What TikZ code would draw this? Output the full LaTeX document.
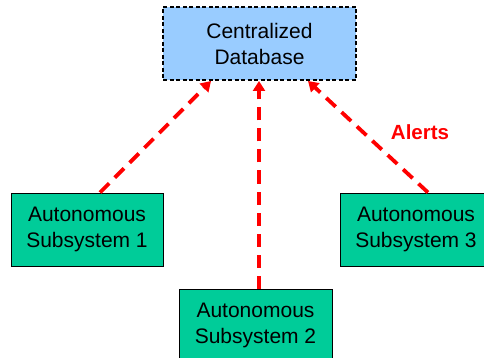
\documentclass[tikz,border=0pt]{standalone}
\usepackage{fontspec}
\setmainfont{Liberation Sans}
\usetikzlibrary{arrows.meta,calc}
\definecolor{dbblue}{HTML}{99CCFF}
\definecolor{subgreen}{HTML}{00CC99}
\definecolor{alertred}{HTML}{FF0000}
\begin{document}
\begin{tikzpicture}[x=1pt,y=1pt,
  dbbox/.style={draw=black,fill=dbblue,line width=2pt,dash pattern=on 4pt off 2.5pt,
    minimum width=193pt,minimum height=73pt,inner sep=0pt,align=center,
    font=\fontsize{21}{26}\selectfont},
  subbox/.style={draw=black,fill=subgreen,line width=1pt,
    minimum width=152pt,minimum height=73pt,inner sep=0pt,align=center,
    font=\fontsize{21}{26}\selectfont},
  alertarrow/.style={draw=alertred,line width=3.8pt,dash pattern=on 13pt off 8pt,
    -{Triangle[length=10pt,width=12pt]}},
  alertlabel/.style={text=alertred,font=\bfseries\fontsize{20.5}{24}\selectfont}]
\useasboundingbox (0,0) rectangle (484,-358);
\clip (0,0) rectangle (484,-358);
\node[dbbox] (db) at (259.5,-43.5) {Centralized\\Database};
\node[subbox] (s1) at (87,-229.5) {Autonomous\\Subsystem 1};
\node[subbox,minimum width=153pt] (s2) at (255.5,-325.5) {Autonomous\\Subsystem 2};
\node[subbox] (s3) at (416,-229.5) {Autonomous\\Subsystem 3};
\draw[alertarrow] ($(s1.north)+(13,0)$) -- ($(db.south)+(-48.5,0)$);
\draw[alertarrow] ($(s2.north)+(3.5,0)$) -- ($(db.south)+(-0.5,0)$);
\draw[alertarrow] ($(s3.north)+(12,0)$) -- ($(db.south)+(48.5,0)$);
\node[alertlabel] (alerts) at (420,-132) {Alerts};
\end{tikzpicture}
\end{document}
